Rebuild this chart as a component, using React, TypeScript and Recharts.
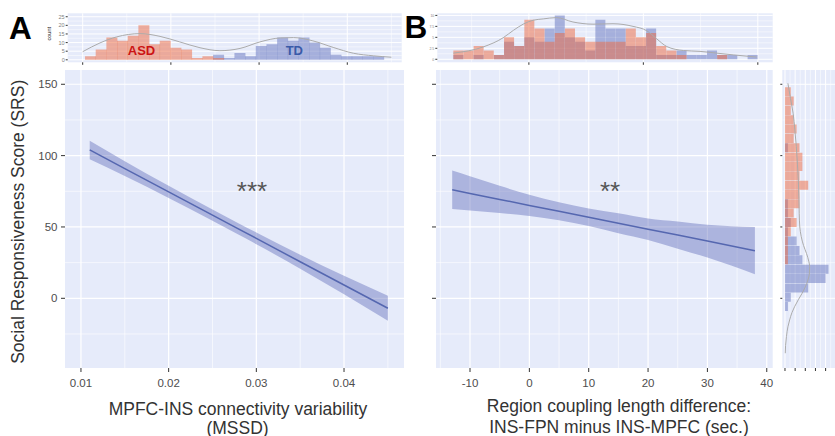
import React from 'react';
import { ComposedChart, Area, Line, Bar, XAxis, YAxis, CartesianGrid, ReferenceDot } from 'recharts';

const FONT = '"Liberation Sans", Arial, Helvetica, sans-serif';
const PANEL_BG = '#E6EBFA';
const GRID = '#FFFFFF';
const TICK_TEXT = '#4D4D4D';
const TICK_LINE = '#333333';
const TITLE = '#333333';
const FIT_LINE = '#5567B0';
const BAND_FILL = '#5562B4';
const ASD_FILL = '#EE683E';
const TD_FILL = '#6473BE';
const DENSITY = '#ABABAB';

// Shared SRS axis
const srsDomain: [number, number] = [-48.85, 160];
const srsTicks = [0, 50, 100, 150];
const srsMinor = [-25, 25, 75, 125];

// Panel A: SRS vs MPFC-INS MSSD (fit + confidence band)
const aX = [0.011, 0.015, 0.02, 0.025, 0.028, 0.03, 0.035, 0.04, 0.045];
const aFit = [104, 90.9, 74.6, 58.3, 48.5, 42.0, 25.6, 9.3, -7.0];
const aLow = [97.5, 85.7, 70.3, 54.3, 44.5, 37.9, 20.7, 2.8, -15.8];
const aHigh = [110.5, 96.1, 78.9, 62.3, 52.5, 46.1, 30.5, 15.8, 1.8];
const aDomain: [number, number] = [0.00818, 0.04684];
const aTicks = [0.01, 0.02, 0.03, 0.04];
const aMinor = [0.015, 0.025, 0.035, 0.045];
const aStars = { x: 0.0295, y: 75.5, text: '***' };

// Panel B: SRS vs coupling length difference
const bX = [-13, -10, -5, 0, 5, 10, 15, 20, 25, 30, 38];
const bFit = [76.0, 73.5, 69.3, 65.1, 61.0, 56.8, 52.6, 48.4, 44.3, 40.1, 33.4];
const bLow = [62.5, 61.5, 59.8, 57.6, 54.7, 50.6, 45.6, 40.9, 34.8, 28.6, 16.9];
const bHigh = [89.5, 85.5, 78.8, 72.6, 67.3, 63.0, 59.6, 55.9, 53.8, 51.6, 49.9];
const bDomain: [number, number] = [-15.73, 41.0];
const bTicks = [-10, 0, 10, 20, 30, 40];
const bMinor = [-15, -5, 5, 15, 25, 35];
const bStars = { x: 13.6, y: 75.5, text: '**' };

// Top histogram A (MSSD)
const hACenters = [0.01087, 0.01208, 0.01329, 0.0145, 0.01571, 0.01692, 0.01813, 0.01934, 0.02055, 0.02176, 0.02297, 0.02418, 0.02539, 0.0266, 0.02781, 0.02902, 0.03023, 0.03144, 0.03265, 0.03386, 0.03507, 0.03628, 0.03749, 0.0387, 0.03991, 0.04112, 0.04233, 0.04354];
const hAAsd = [2, 6, 13, 11, 14, 20, 9, 11, 7, 6, 1, 2, 1, 0, 0, 0, 0, 0, 0, 0, 0, 0, 0, 0, 0, 0, 0, 0];
const hATd = [0, 0, 0, 0, 0, 0, 0, 0, 0, 0, 0, 0, 3, 1, 4, 2, 8, 9, 13, 11, 13, 10, 7, 3, 2, 2, 2, 2];
const dAX = [0.01, 0.01196, 0.01385, 0.0165, 0.01877, 0.021, 0.0233, 0.02556, 0.02784, 0.0301, 0.0324, 0.0339, 0.0361, 0.0384, 0.0407, 0.043, 0.045];
const dAY = [4.7, 9.8, 13.3, 15.2, 13.6, 10.4, 7.0, 5.3, 6.6, 10.4, 12.7, 12.9, 11.0, 7.2, 3.8, 2.3, 1.5];
const hAXDomain: [number, number] = [0.0083, 0.04617];
const hAYDomain: [number, number] = [-1.45, 27];
const hAYTicks = [0, 5, 10, 15, 20, 25];
const hAYMinor = [2.5, 7.5, 12.5, 17.5, 22.5];

// Top histogram B (coupling length difference)
const hBCenters = [-12.31, -10.54, -8.77, -7.0, -5.22, -3.45, -1.68, 0.09, 1.87, 3.64, 5.41, 7.19, 8.96, 10.73, 12.5, 14.28, 16.05, 17.82, 19.6, 21.37, 23.14, 24.91, 26.69, 28.46, 30.23, 32.01, 33.78, 35.55, 37.32, 39.1];
const hBAsd = [2, 2, 3, 2, 1, 5, 3, 9, 7, 4, 6, 7, 5, 4, 4, 4, 4, 7, 5, 6, 3, 2, 1, 0, 0, 0, 1, 0, 0, 0];
const hBTd = [1, 0, 1, 0, 1, 4, 3, 5, 4, 7, 10, 5, 4, 2, 9, 7, 7, 3, 3, 7, 1, 1, 2, 1, 1, 2, 1, 1, 0, 1];
const dBX = [-13.2, -8, -4.5, -2.7, -1, 0.75, 2.5, 4.8, 7.7, 11.2, 14.7, 18.2, 20.6, 22.3, 24.1, 27, 29.9, 32.8, 35.7, 39.8];
const dBY = [1.4, 2.8, 4.9, 6.6, 8.0, 8.9, 9.2, 9.5, 8.5, 8.0, 8.1, 7.5, 6.5, 4.7, 2.9, 2.0, 1.8, 1.4, 1.0, 0.5];
const hBXDomain: [number, number] = [-16.0, 42.6];
const hBXTicks = [0, 20, 40];
const hBXMinor = [-10, 10, 30];
const hBYDomain: [number, number] = [-0.69, 10.48];
const hBYTicks = [0, 2.5, 5, 7.5, 10];
const hBYMinor = [1.25, 3.75, 6.25, 8.75];

// Right marginal histogram (SRS)
const hRCenters = [144.6, 138.1, 131.6, 125.0, 118.5, 111.9, 105.4, 98.8, 92.3, 85.8, 79.2, 72.7, 66.1, 59.6, 53.0, 46.5, 40.0, 33.4, 26.9, 20.3, 13.8, 7.2, 0.7, -5.9];
const hRAsd = [2, 3, 2, 3, 4, 3, 5, 6, 6, 5, 8, 5, 5, 3, 4, 2, 1, 1, 1, 0, 0, 0, 0, 0];
const hRTd = [0, 0, 0, 0, 0, 0, 1, 0, 0, 0, 0, 0, 1, 1, 2, 1, 4, 5, 6, 15, 14, 8, 2, 1];
const dRY = [150.7, 140, 129.7, 118, 106.3, 94, 82.9, 70, 59.6, 50, 43.2, 37, 31.5, 26, 22.2, 17, 12.8, 8, 3.5, -1, -5.9, -10, -15.2, -20, -26.9, -33, -38.5];
const dRC = [1.0, 1.9, 2.8, 3.4, 3.9, 4.3, 4.6, 4.8, 4.9, 5.1, 5.6, 6.4, 7.4, 8.2, 8.5, 8.4, 7.9, 7.0, 5.9, 4.6, 3.3, 2.4, 1.6, 1.0, 0.5, 0.2, 0.1];
const hRXDomain: [number, number] = [-0.93, 17.24];
const hRXTicks = [0, 3.5, 7, 10.5, 14];
const hRXMinor = [1.75, 5.25, 8.75, 12.25, 15.75];

const blank = () => '';

function MainPanel(p: any) {
  const rows = p.xs.map((x: number, i: number) => ({ x, fit: p.fit[i], band: [p.low[i], p.high[i]] }));
  return (
    <ComposedChart
      width={p.width}
      height={376}
      data={rows}
      margin={{ top: 10, right: p.marginRight, bottom: 38, left: 0 }}
      style={{ position: 'absolute', left: p.left, top: 60 }}
    >
      <CartesianGrid fill={PANEL_BG} stroke={GRID} strokeWidth={0.6} horizontalValues={srsMinor} verticalValues={p.xMinor} />
      <CartesianGrid stroke={GRID} strokeWidth={1.2} horizontalValues={srsTicks} verticalValues={p.xTicks} />
      <XAxis
        type="number"
        dataKey="x"
        domain={p.xDomain}
        ticks={p.xTicks}
        allowDataOverflow
        axisLine={false}
        tickLine={{ stroke: TICK_LINE }}
        tickSize={4}
        tickMargin={6.5}
        height={30}
        tick={{ fontSize: 11.5, fill: TICK_TEXT }}
        tickFormatter={p.xFmt}
        interval={0}
      />
      <YAxis
        type="number"
        domain={srsDomain}
        ticks={srsTicks}
        allowDataOverflow
        width={p.yWidth}
        axisLine={false}
        tickLine={{ stroke: TICK_LINE }}
        tickSize={4}
        tickMargin={3.5}
        tick={{ fontSize: 11.5, fill: TICK_TEXT }}
        tickFormatter={p.showY ? (v: number) => String(v) : blank}
        interval={0}
      />
      <Area dataKey="band" type="monotone" stroke="none" fill={BAND_FILL} fillOpacity={0.4} isAnimationActive={false} dot={false} activeDot={false} />
      <Line dataKey="fit" type="linear" stroke={FIT_LINE} strokeWidth={1.5} dot={false} activeDot={false} isAnimationActive={false} />
      <ReferenceDot
        x={p.stars.x}
        y={p.stars.y}
        r={0}
        fill="none"
        stroke="none"
        label={{ value: p.stars.text, position: 'center', fontSize: 26, fill: '#555555' }}
      />
    </ComposedChart>
  );
}

function TopHist(p: any) {
  const rows = p.centers.map((x: number, i: number) => ({ x, asd: p.asd[i], td: p.td[i] }));
  const dens = p.dx.map((x: number, i: number) => ({ x, d: p.dy[i] }));
  return (
    <>
      <ComposedChart
        width={p.width}
        height={70}
        data={rows}
        barCategoryGap={0}
        barGap={0}
        margin={{ top: 13.3, right: p.marginRight, bottom: 0, left: 0 }}
        style={{ position: 'absolute', left: p.left, top: 0 }}
      >
        <CartesianGrid fill={PANEL_BG} stroke={GRID} strokeWidth={0.5} horizontalValues={p.yMinor} verticalValues={p.xMinor} />
        <CartesianGrid stroke={GRID} strokeWidth={1} horizontalValues={p.yTicks} verticalValues={p.xTicks} />
        <XAxis
          type="number"
          dataKey="x"
          domain={p.xDomain}
          ticks={p.xTicks}
          allowDataOverflow
          axisLine={false}
          tickLine={{ stroke: TICK_LINE }}
          tickSize={2.5}
          tickFormatter={blank}
          height={7.7}
          interval={0}
        />
        <XAxis xAxisId="td" type="number" dataKey="x" domain={p.xDomain} allowDataOverflow hide />
        <YAxis
          type="number"
          domain={p.yDomain}
          ticks={p.yTicks}
          allowDataOverflow
          width={p.yWidth}
          axisLine={false}
          tickLine={{ stroke: TICK_LINE }}
          tickSize={2}
          tickMargin={1}
          tick={{ fontSize: p.yFont, fill: '#7F7F7F' }}
          interval={0}
        />
        <Bar xAxisId="td" dataKey="td" fill={TD_FILL} fillOpacity={0.5} isAnimationActive={false} />
        <Bar dataKey="asd" fill={ASD_FILL} fillOpacity={0.5} isAnimationActive={false} />
      </ComposedChart>
      <ComposedChart
        width={p.width}
        height={70}
        data={dens}
        margin={{ top: 13.3, right: p.marginRight, bottom: 7.7, left: p.yWidth }}
        style={{ position: 'absolute', left: p.left, top: 0 }}
      >
        <XAxis type="number" dataKey="x" domain={p.xDomain} allowDataOverflow hide />
        <YAxis type="number" domain={p.yDomain} allowDataOverflow hide />
        <Line dataKey="d" type="monotone" stroke={DENSITY} strokeWidth={1} dot={false} activeDot={false} isAnimationActive={false} />
      </ComposedChart>
    </>
  );
}

function RightHist() {
  const rows = hRCenters.map((y, i) => ({ y, asd: hRAsd[i], td: hRTd[i] }));
  const dens = dRY.map((y, i) => ({ y, c: dRC[i] }));
  return (
    <>
      <ComposedChart
        layout="vertical"
        width={55}
        height={376}
        data={rows}
        barCategoryGap={0}
        barGap={0}
        margin={{ top: 10, right: 0, bottom: 38, left: 0 }}
        style={{ position: 'absolute', left: 780, top: 60 }}
      >
        <CartesianGrid fill={PANEL_BG} stroke={GRID} strokeWidth={0.5} horizontalValues={srsMinor} verticalValues={hRXMinor} />
        <CartesianGrid stroke={GRID} strokeWidth={1} horizontalValues={srsTicks} verticalValues={hRXTicks} />
        <XAxis
          type="number"
          domain={hRXDomain}
          ticks={hRXTicks}
          allowDataOverflow
          axisLine={false}
          tickLine={{ stroke: TICK_LINE }}
          tickSize={3}
          tickFormatter={blank}
          height={30}
          interval={0}
        />
        <YAxis
          type="number"
          dataKey="y"
          domain={srsDomain}
          ticks={srsTicks}
          allowDataOverflow
          reversed
          width={2.3}
          axisLine={false}
          tickLine={{ stroke: TICK_LINE }}
          tickSize={2}
          tickFormatter={blank}
          interval={0}
        />
        <YAxis yAxisId="td" type="number" dataKey="y" domain={srsDomain} allowDataOverflow reversed hide />
        <Bar yAxisId="td" dataKey="td" fill={TD_FILL} fillOpacity={0.5} isAnimationActive={false} />
        <Bar dataKey="asd" fill={ASD_FILL} fillOpacity={0.5} isAnimationActive={false} />
      </ComposedChart>
      <ComposedChart
        layout="vertical"
        width={55}
        height={376}
        data={dens}
        margin={{ top: 10, right: 0, bottom: 68, left: 2.3 }}
        style={{ position: 'absolute', left: 780, top: 60 }}
      >
        <XAxis type="number" domain={hRXDomain} allowDataOverflow hide />
        <YAxis type="number" dataKey="y" domain={srsDomain} allowDataOverflow reversed hide />
        <Line dataKey="c" type="monotone" stroke={DENSITY} strokeWidth={1} dot={false} activeDot={false} isAnimationActive={false} />
      </ComposedChart>
    </>
  );
}

export default function App() {
  return (
    <div
      style={{
        position: 'absolute',
        left: 0,
        top: 0,
        width: 835,
        height: 436,
        overflow: 'hidden',
        background: '#FFFFFF',
        fontFamily: FONT,
      }}
    >
      <TopHist
        left={0}
        width={410}
        yWidth={67.7}
        marginRight={8.3}
        centers={hACenters}
        asd={hAAsd}
        td={hATd}
        dx={dAX}
        dy={dAY}
        xDomain={hAXDomain}
        xTicks={aTicks}
        xMinor={aMinor}
        yDomain={hAYDomain}
        yTicks={hAYTicks}
        yMinor={hAYMinor}
        yFont={5.5}
      />
      <TopHist
        left={420}
        width={360}
        yWidth={17.3}
        marginRight={7.3}
        centers={hBCenters}
        asd={hBAsd}
        td={hBTd}
        dx={dBX}
        dy={dBY}
        xDomain={hBXDomain}
        xTicks={hBXTicks}
        xMinor={hBXMinor}
        yDomain={hBYDomain}
        yTicks={hBYTicks}
        yMinor={hBYMinor}
        yFont={3.5}
      />
      <MainPanel
        left={0}
        width={420}
        yWidth={65}
        marginRight={16}
        xs={aX}
        fit={aFit}
        low={aLow}
        high={aHigh}
        xDomain={aDomain}
        xTicks={aTicks}
        xMinor={aMinor}
        xFmt={(v: number) => v.toFixed(2)}
        showY={true}
        stars={aStars}
      />
      <MainPanel
        left={420}
        width={360}
        yWidth={16}
        marginRight={7.3}
        xs={bX}
        fit={bFit}
        low={bLow}
        high={bHigh}
        xDomain={bDomain}
        xTicks={bTicks}
        xMinor={bMinor}
        xFmt={(v: number) => String(v)}
        showY={false}
        stars={bStars}
      />
      <RightHist />
      <svg
        width={835}
        height={436}
        style={{ position: 'absolute', left: 0, top: 0, pointerEvents: 'none' }}
        fontFamily={FONT}
      >
        <text x={9} y={38.5} fontSize={31.5} fontWeight="bold" fill="#000000">A</text>
        <text x={404.5} y={38} fontSize={31.5} fontWeight="bold" fill="#000000">B</text>
        <text x={141.5} y={55} textAnchor="middle" fontSize={13} fontWeight="bold" fill="#CC1414">ASD</text>
        <text x={294.3} y={55} textAnchor="middle" fontSize={13} fontWeight="bold" fill="#3A5AA8">TD</text>
        <text transform="translate(51.4,33.7) rotate(-90)" textAnchor="middle" fontSize={5.5} fill="#222222">count</text>
        <text transform="translate(23.6,221.8) rotate(-90)" textAnchor="middle" fontSize={17.5} fill={TITLE}>
          Social Responsiveness Score (SRS)
        </text>
        <text x={238} y={414.5} textAnchor="middle" fontSize={17.5} fill={TITLE}>MPFC-INS connectivity variability</text>
        <text x={237.5} y={433.5} textAnchor="middle" fontSize={17.5} fill={TITLE}>(MSSD)</text>
        <text x={619} y={412.3} textAnchor="middle" fontSize={17.5} fill={TITLE}>Region coupling length difference:</text>
        <text x={619} y={432.7} textAnchor="middle" fontSize={17.5} fill={TITLE}>INS-FPN minus INS-MPFC (sec.)</text>
      </svg>
    </div>
  );
}
